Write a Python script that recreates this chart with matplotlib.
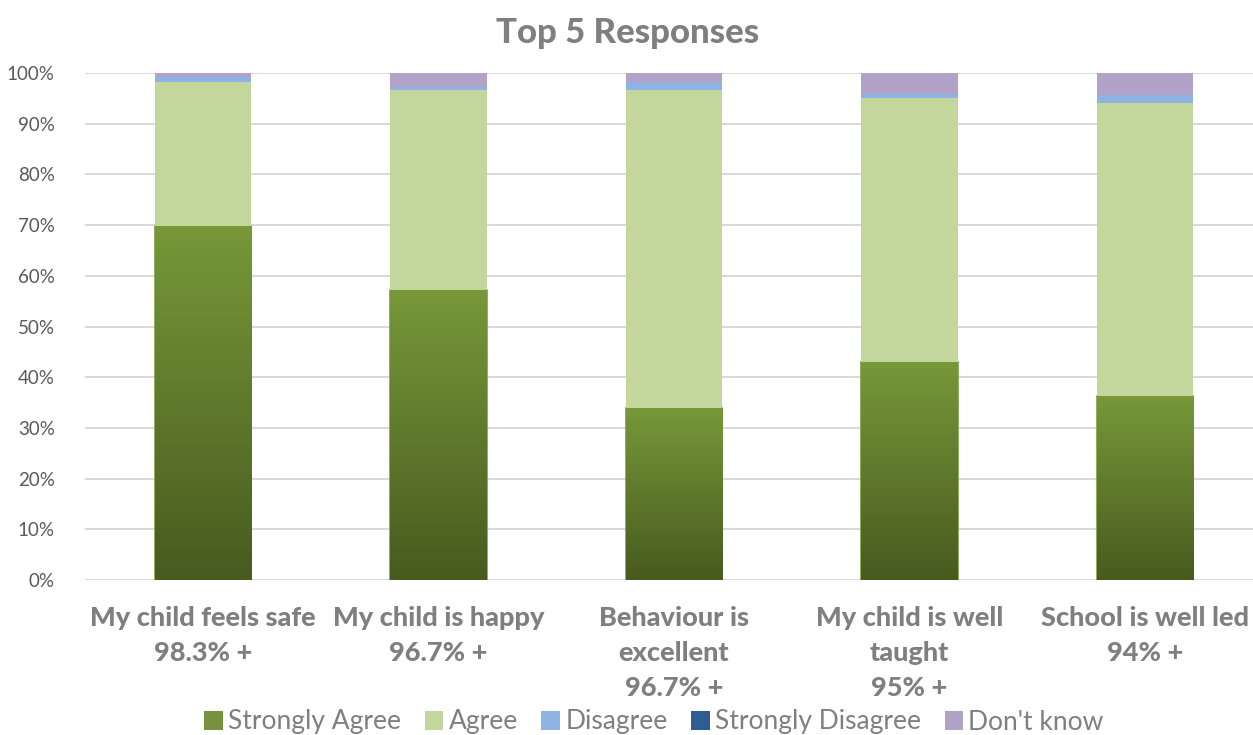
import matplotlib
matplotlib.use("Agg")
import matplotlib.pyplot as plt
import numpy as np
from matplotlib.patches import Patch
from matplotlib.colors import LinearSegmentedColormap

categories = ["My child feels safe\n98.3% +", "My child is happy\n96.7% +",
              "Behaviour is\nexcellent\n96.7% +", "My child is well\ntaught\n95% +",
              "School is well led\n94% +"]
strongly_agree = [69.9, 57.2, 34.0, 43.0, 36.3]
agree = [28.4, 39.4, 62.6, 52.0, 57.7]
disagree = [0.9, 0.7, 1.6, 0.8, 1.7]
strongly_disagree = [0.0, 0.0, 0.0, 0.0, 0.0]
dont_know = [0.8, 2.7, 1.8, 4.2, 4.3]
series_names = ["Strongly Agree", "Agree", "Disagree", "Strongly Disagree", "Don't know"]
yticks = [0, 10, 20, 30, 40, 50, 60, 70, 80, 90, 100]

colors = ["#76923C", "#C3D69B", "#8EB4E3", "#2E5D94", "#B3A2C7"]
FONT = "Lato"
GRAY = "#7F7F7F"

W, H = 1253, 735
fig = plt.figure(figsize=(W / 100, H / 100), dpi=100)
left = 85.25 / W
right = 1262.75 / W
bottom = (H - 580) / H
top = (H - 73) / H
ax = fig.add_axes([left, bottom, right - left, top - bottom])

x = np.arange(len(categories))
bw = 0.41
series = [strongly_agree, agree, disagree, strongly_disagree, dont_know]
base = np.zeros(len(categories))
for i, (vals, col) in enumerate(zip(series, colors)):
    vals = np.array(vals)
    if i == 0:
        bars = ax.bar(x, vals, bw, bottom=base, color=col, edgecolor="#7E9F3E",
                      linewidth=1.2, zorder=3)
        grad = np.linspace(0, 1, 256).reshape(-1, 1)
        cmap = LinearSegmentedColormap.from_list("g", ["#475B1F", "#789839"])
        for b in bars:
            bx, by = b.get_x(), b.get_y()
            im = ax.imshow(grad, cmap=cmap, aspect="auto", origin="lower",
                           extent=[bx, bx + b.get_width(), by, by + b.get_height()],
                           zorder=3.5)
            im.set_clip_path(b)
    else:
        ax.bar(x, vals, bw, bottom=base, color=col, linewidth=0, zorder=3)
    base += vals

ax.set_xlim(-0.5, len(categories) - 0.5)
ax.set_ylim(0, 100)
ax.set_yticks(yticks)
ax.set_yticklabels([f"{v}%" for v in yticks], fontsize=13.5, color="#595959", family=FONT)
ax.set_xticks(x)
ax.set_xticklabels(categories, fontsize=19.5, fontweight=900, color=GRAY,
                   family=FONT, linespacing=1.55, va="top")
ax.tick_params(axis="both", length=0)
ax.tick_params(axis="x", pad=19)
ax.tick_params(axis="y", pad=22)
ax.grid(axis="y", color="#D9D9D9", linewidth=1.4, zorder=0)
for s in ax.spines.values():
    s.set_visible(False)

fig.text(628 / W, 1 - 33 / H, "Top 5 Responses", ha="center", va="center",
         fontsize=25, fontweight=900, color=GRAY, family=FONT)

handles = [Patch(facecolor=c, edgecolor="none") for c in colors]
leg = fig.legend(handles, series_names, loc="center", bbox_to_anchor=(654 / W, 1 - 722 / H),
                 ncol=5, frameon=False, handlelength=0.7, handleheight=0.7,
                 handletextpad=0.2, columnspacing=0.9, borderpad=0,
                 prop={"family": FONT, "size": 19})
for t in leg.get_texts():
    t.set_color(GRAY)

fig.savefig("out.png", dpi=100)
